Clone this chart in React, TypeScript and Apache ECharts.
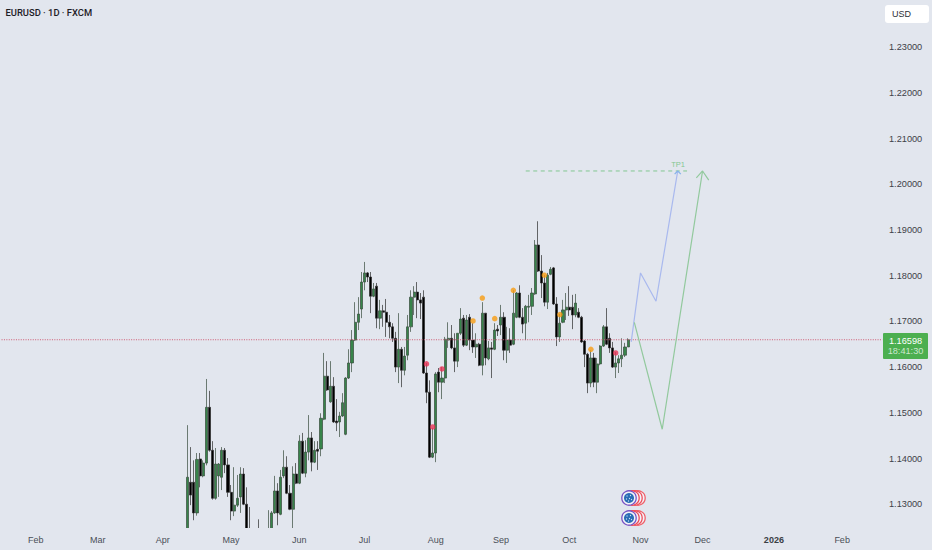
import React, { useEffect, useRef } from "react";
import * as echarts from "echarts";

const symbolTitle = "EURUSD · 1D · FXCM";
const currency = "USD";
const lastPriceLabel = "1.16598";
const countdown = "18:41:30";
const lastPrice = 1.16598;
const targetLabel = "TP1";

const priceTicks = [1.13, 1.14, 1.15, 1.16, 1.17, 1.18, 1.19, 1.2, 1.21, 1.22, 1.23];
const monthLabels = ["Feb", "Mar", "Apr", "May", "Jun", "Jul", "Aug", "Sep", "Oct", "Nov", "Dec", "2026", "Feb"];
const monthBars = [11, 31, 52, 74, 96, 117, 140, 161, 183, 206, 226, 249, 271];
const totalBars = 285;
const firstBar = 60;

const opens = [
  1.1243, 1.1348, 1.1348, 1.1281, 1.1399, 1.1362, 1.139, 1.1512, 1.1418, 1.1313, 1.1362, 1.1359, 1.1418, 1.1386, 1.1326, 1.1285,
  1.1298, 1.1316, 1.1366, 1.13, 1.1246, 1.122, 1.121, 1.1225, 1.1215, 1.12, 1.1215, 1.1235, 1.1281, 1.1329, 1.1278, 1.1362,
  1.1381, 1.1324, 1.1289, 1.1366, 1.1346, 1.1438, 1.1368, 1.1414, 1.1445, 1.1392, 1.142, 1.1421, 1.1486, 1.158, 1.1524, 1.1558,
  1.1482, 1.148, 1.1493, 1.1453, 1.1576, 1.1609, 1.1659, 1.1698, 1.1727, 1.1786, 1.1806, 1.1797, 1.1755, 1.1777, 1.1707, 1.1723,
  1.172, 1.1698, 1.1688, 1.1663, 1.16, 1.1639, 1.1593, 1.1626, 1.1688, 1.1753, 1.1764, 1.1747, 1.1753, 1.1587, 1.1545, 1.1403,
  1.1412, 1.1589, 1.1567, 1.1576, 1.1659, 1.1663, 1.1642, 1.1613, 1.1674, 1.1707, 1.1648, 1.1709, 1.1659, 1.1644, 1.165, 1.1604,
  1.1718, 1.1618, 1.1642, 1.1639, 1.1683, 1.1692, 1.1709, 1.1637, 1.1659, 1.165, 1.1709, 1.1762, 1.1709, 1.1696, 1.1731, 1.1733,
  1.176, 1.1867, 1.181, 1.1784, 1.1742, 1.1803, 1.1817, 1.1738, 1.1666, 1.1698, 1.1725, 1.1731, 1.1731, 1.1714, 1.172, 1.1709,
  1.1657, 1.1628, 1.1565, 1.162, 1.1567, 1.1607, 1.1646, 1.1688, 1.1663, 1.1642, 1.16, 1.1609, 1.1618, 1.1626, 1.1644,
];
const closes = [
  1.1359, 1.132, 1.1281, 1.1398, 1.1362, 1.139, 1.1512, 1.1418, 1.1313, 1.1388, 1.1388, 1.1418, 1.1386, 1.1326, 1.1285, 1.1298,
  1.1313, 1.1366, 1.13, 1.1239, 1.122, 1.121, 1.122, 1.1215, 1.12, 1.1215, 1.1235, 1.1281, 1.1329, 1.1281, 1.1359, 1.1381,
  1.1324, 1.1289, 1.1366, 1.1346, 1.1438, 1.1368, 1.1414, 1.1445, 1.1392, 1.1418, 1.1416, 1.1488, 1.158, 1.155, 1.1558, 1.148,
  1.1478, 1.1493, 1.1522, 1.1576, 1.1609, 1.1659, 1.1698, 1.1716, 1.1786, 1.1806, 1.1797, 1.1755, 1.1771, 1.1707, 1.1723, 1.172,
  1.1698, 1.1688, 1.1663, 1.16, 1.1639, 1.1593, 1.1624, 1.1688, 1.1753, 1.1764, 1.1747, 1.174, 1.1587, 1.1545, 1.1403, 1.1412,
  1.1585, 1.1567, 1.1576, 1.1661, 1.1663, 1.1642, 1.1613, 1.1674, 1.1705, 1.1648, 1.1703, 1.1659, 1.1644, 1.165, 1.1604, 1.1718,
  1.162, 1.1642, 1.1639, 1.1681, 1.1679, 1.1709, 1.1637, 1.1659, 1.1648, 1.1718, 1.1762, 1.1709, 1.1694, 1.1733, 1.1733, 1.1762,
  1.1867, 1.181, 1.1784, 1.1742, 1.1801, 1.1814, 1.1738, 1.1666, 1.1696, 1.1725, 1.1731, 1.1725, 1.1714, 1.174, 1.1709, 1.1655,
  1.1628, 1.1565, 1.162, 1.1567, 1.1607, 1.1646, 1.1688, 1.165, 1.1642, 1.16, 1.1609, 1.1618, 1.1626, 1.1644, 1.16598,
];
const lows = [
  1.1221, 1.1298, 1.1265, 1.1275, 1.1337, 1.1359, 1.1385, 1.1415, 1.131, 1.131, 1.1316, 1.1331, 1.1368, 1.1316, 1.1265, 1.1274,
  1.1294, 1.1281, 1.1298, 1.1221, 1.12, 1.119, 1.1195, 1.12, 1.119, 1.119, 1.1205, 1.122, 1.1279, 1.1254, 1.1276, 1.1357,
  1.1322, 1.1287, 1.1248, 1.1344, 1.1344, 1.1366, 1.1359, 1.1396, 1.1372, 1.139, 1.1375, 1.1405, 1.1484, 1.1548, 1.1522, 1.1478,
  1.146, 1.1447, 1.1491, 1.1451, 1.1574, 1.1589, 1.1657, 1.1681, 1.1707, 1.1768, 1.1786, 1.1718, 1.1753, 1.1685, 1.1683, 1.1688,
  1.1666, 1.1663, 1.1655, 1.1589, 1.1565, 1.1556, 1.1582, 1.1615, 1.1677, 1.1714, 1.1707, 1.1705, 1.1585, 1.1521, 1.1401, 1.1401,
  1.1392, 1.1545, 1.153, 1.1565, 1.1642, 1.1639, 1.1589, 1.16, 1.167, 1.1644, 1.1646, 1.1637, 1.1631, 1.162, 1.1602, 1.1582,
  1.1604, 1.1615, 1.1576, 1.1637, 1.1668, 1.167, 1.1615, 1.1609, 1.1631, 1.1648, 1.1707, 1.1707, 1.1674, 1.1659, 1.1698, 1.1714,
  1.1758, 1.1808, 1.1751, 1.1733, 1.1727, 1.1801, 1.1736, 1.1646, 1.1655, 1.1696, 1.1703, 1.1712, 1.1683, 1.1709, 1.1707, 1.1653,
  1.16, 1.1543, 1.1556, 1.1556, 1.1543, 1.1604, 1.1644, 1.1648, 1.1631, 1.1598, 1.1576, 1.1587, 1.16, 1.1622, 1.1644,
];
const highs = [
  1.1473, 1.1425, 1.1396, 1.1412, 1.1412, 1.1396, 1.1574, 1.1548, 1.1438, 1.1423, 1.139, 1.1425, 1.1423, 1.1401, 1.1342, 1.1381,
  1.1364, 1.1381, 1.1379, 1.1337, 1.1294, 1.1235, 1.124, 1.1267, 1.1235, 1.123, 1.1287, 1.1285, 1.1362, 1.1346, 1.1375, 1.1418,
  1.1405, 1.1342, 1.1383, 1.139, 1.1451, 1.1456, 1.144, 1.1495, 1.1458, 1.1438, 1.1438, 1.1499, 1.1631, 1.1613, 1.1613, 1.1578,
  1.153, 1.1502, 1.1543, 1.1578, 1.1639, 1.1681, 1.1742, 1.1753, 1.1808, 1.183, 1.1808, 1.1808, 1.1784, 1.1784, 1.1747, 1.1736,
  1.1749, 1.1714, 1.1696, 1.1677, 1.1718, 1.1644, 1.1644, 1.1714, 1.1768, 1.1777, 1.1786, 1.1762, 1.1768, 1.1609, 1.1571, 1.1467,
  1.1589, 1.1598, 1.16, 1.1666, 1.1698, 1.1692, 1.1674, 1.1674, 1.1729, 1.1714, 1.1714, 1.1716, 1.1696, 1.1674, 1.1653, 1.1742,
  1.1718, 1.1657, 1.1655, 1.1696, 1.1692, 1.1736, 1.172, 1.1688, 1.1685, 1.1768, 1.1764, 1.1779, 1.1729, 1.1736, 1.1758, 1.1773,
  1.1878, 1.1919, 1.1845, 1.1801, 1.1806, 1.1819, 1.1819, 1.1753, 1.1716, 1.1747, 1.1762, 1.1777, 1.1758, 1.176, 1.1729, 1.1712,
  1.1659, 1.1631, 1.1637, 1.1631, 1.162, 1.1648, 1.1692, 1.1729, 1.1674, 1.1655, 1.1633, 1.1626, 1.1663, 1.1653, 1.1663,
];

const orangeDots: [number, number][] = [
  [152, 1.1701], [155, 1.1751], [159, 1.1706], [165, 1.1768], [175, 1.1801], [180, 1.1715], [190, 1.1639],
];
const redDots: [number, number][] = [
  [137, 1.1607], [139, 1.1469], [142, 1.1596], [198, 1.1631],
];
const priceLine: [number, number][] = [[0, lastPrice], [totalBars - 1, lastPrice]];
const bluePath: [number, number][] = [[203, 1.1655], [206, 1.1806], [211, 1.1744], [218, 1.2029]];
const blueArrow: [number, number][] = [[217, 1.2022], [218, 1.2029], [219, 1.2022]];
const greenPath: [number, number][] = [[204, 1.1698], [213, 1.1464], [226, 1.2029]];
const greenArrow: [number, number][] = [[224, 1.2014], [226, 1.2029], [228, 1.2009]];
const targetLine: [number, number][] = [[169, 1.2029], [221, 1.2029]];

const BG = "#e2e6ee";
const FONT = "'Liberation Sans', Arial, sans-serif";

function globe(cy: number) {
  const rings = [
    { x: 638, s: "#f0626c" },
    { x: 635, s: "#f0525e" },
    { x: 632, s: "#ee4a58" },
    { x: 629, s: "#7a55c4" },
  ];
  const children: any[] = rings.map((r) => ({
    type: "circle",
    z: 6,
    shape: { cx: r.x, cy, r: 7.2 },
    style: { fill: "#f2f3f8", stroke: r.s, lineWidth: 1.3 },
  }));
  children.push({ type: "circle", z: 6, shape: { cx: 629, cy, r: 5 }, style: { fill: "#2a6db5" } });
  [[-2, -2], [1.5, -2.5], [-2.5, 1], [0.5, 0.5], [2.5, 1.5], [-0.5, 3]].forEach(([dx, dy]) =>
    children.push({ type: "circle", z: 6, shape: { cx: 629 + dx, cy: cy + dy, r: 0.6 }, style: { fill: "#cfe0f2" } })
  );
  return { type: "group", children };
}

export default function App() {
  const ref = useRef<HTMLDivElement>(null);
  useEffect(() => {
    const chart = echarts.init(ref.current!, undefined, { renderer: "svg" });
    const categories = Array.from({ length: totalBars }, (_, i) => {
      const k = monthBars.indexOf(i);
      return k >= 0 ? monthLabels[k] : "";
    });
    const candleData: any[] = categories.map((_, i) => {
      const n = i - firstBar;
      return n >= 0 && n < opens.length ? [opens[n], closes[n], lows[n], highs[n]] : ["-", "-", "-", "-"];
    });
    const line = (data: [number, number][], color: string, extra: any = {}) => ({
      type: "line",
      data,
      showSymbol: false,
      silent: true,
      clip: true,
      z: 4,
      lineStyle: { color, width: 1.2, ...extra },
    });
    chart.setOption({
      animation: false,
      backgroundColor: BG,
      grid: { left: -1, top: 0, width: 885, height: 528, containLabel: false },
      xAxis: {
        type: "category",
        data: categories,
        z: 10,
        axisLine: { show: false },
        axisTick: { show: false },
        splitLine: { show: false },
        axisLabel: {
          interval: (_: number, v: string) => v !== "",
          hideOverlap: false,
          margin: 7,
          fontFamily: FONT,
          fontSize: 9,
          color: "#4a4f57",
          formatter: (v: string) => (v === "2026" ? "{b|2026}" : v),
          rich: { b: { fontFamily: FONT, fontSize: 9, fontWeight: "bold", color: "#3a3e45" } },
        },
      },
      yAxis: {
        type: "value",
        position: "right",
        min: 1.1248,
        max: 1.2403,
        scale: true,
        z: 10,
        axisLine: { show: false },
        axisTick: { show: false },
        splitLine: { show: false },
        axisLabel: {
          customValues: priceTicks,
          margin: 5,
          fontFamily: FONT,
          fontSize: 9.2,
          color: "#3d4148",
          formatter: (v: number) => v.toFixed(5),
        },
      },
      series: [
        line(priceLine, "#cf5a72", { type: [1, 1.4], width: 1 }),
        {
          type: "candlestick",
          data: candleData,
          barWidth: 2.6,
          clip: true,
          silent: true,
          z: 2,
          itemStyle: {
            color: "#37844a",
            color0: "#000000",
            borderColor: "#384a3c",
            borderColor0: "#2b2b2b",
            borderWidth: 0.7,
          },
        },
        line(targetLine, "#82c791", { type: [4, 3.5], width: 1 }),
        line(bluePath, "#a9b9ee"),
        line(blueArrow, "#86b2ea"),
        line(greenPath, "#92c99d"),
        line(greenArrow, "#92c99d"),
        {
          type: "scatter",
          data: orangeDots,
          symbolSize: 5.5,
          silent: true,
          z: 5,
          itemStyle: { color: "#f89c12" },
        },
        {
          type: "scatter",
          data: redDots,
          symbolSize: 5.5,
          silent: true,
          z: 5,
          itemStyle: { color: "#ea3355" },
        },
      ],
      graphic: [
        { type: "rect", z: 3, shape: { x: 0, y: 528, width: 885, height: 22 }, style: { fill: BG } },
        { type: "text", z: 6, x: 5.5, y: 12, style: { text: symbolTitle, fill: "#1d2026", font: `500 9.4px Roboto, ${FONT}`, textVerticalAlign: "middle" } },
        { type: "rect", z: 6, shape: { x: 885, y: 5, width: 44, height: 18, r: 3 }, style: { fill: "#ffffff" } },
        { type: "text", z: 6, x: 892, y: 13.5, style: { text: currency, fill: "#2b2f36", font: `9px ${FONT}`, textVerticalAlign: "middle" } },
        { type: "rect", z: 6, shape: { x: 883, y: 333, width: 45, height: 26, r: 1 }, style: { fill: "#4caf50" } },
        { type: "text", z: 7, x: 905.5, y: 340.5, style: { text: lastPriceLabel, fill: "#ffffff", font: `9.2px ${FONT}`, textAlign: "center", textVerticalAlign: "middle" } },
        { type: "text", z: 7, x: 905.5, y: 351, style: { text: countdown, fill: "rgba(255,255,255,0.72)", font: `9.2px ${FONT}`, textAlign: "center", textVerticalAlign: "middle" } },
        { type: "text", z: 6, x: 678, y: 164.5, style: { text: targetLabel, fill: "#82c791", font: `7.5px ${FONT}`, textAlign: "center", textVerticalAlign: "middle" } },
        globe(498),
        globe(518),
      ],
    });
    return () => chart.dispose();
  }, []);
  return <div ref={ref} style={{ position: "absolute", left: 0, top: 0, width: 932, height: 550 }} />;
}
